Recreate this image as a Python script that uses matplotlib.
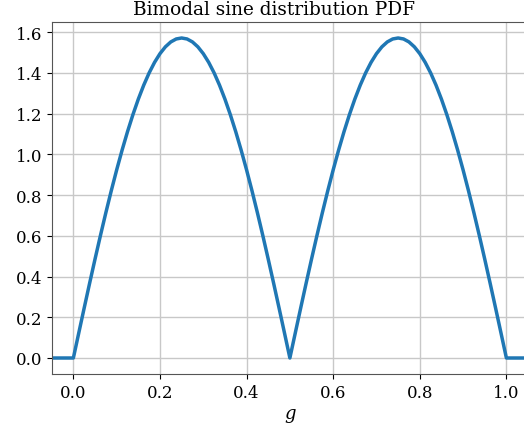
import numpy as np
import matplotlib.pyplot as plt

plt.rcParams['font.family'] = 'DejaVu Serif'
plt.rcParams['mathtext.fontset'] = 'dejavuserif'

# Плотность на отрезке [0, 1] с шагом 0.0125 и нули по краям
g = [-0.05] + [round(0.0125 * i, 4) for i in range(81)] + [1.05]
pdf = [0.0,
       0.0, 0.1232, 0.2457, 0.3667, 0.4854, 0.6011, 0.7131, 0.8208, 0.9233, 1.0202,
       1.1107, 1.1944, 1.2708, 1.3393, 1.3996, 1.4512, 1.4939, 1.5274, 1.5515, 1.5660,
       1.5708,
       1.5660, 1.5515, 1.5274, 1.4939, 1.4512, 1.3996, 1.3393, 1.2708, 1.1944, 1.1107,
       1.0202, 0.9233, 0.8208, 0.7131, 0.6011, 0.4854, 0.3667, 0.2457, 0.1232,
       0.0,
       0.1232, 0.2457, 0.3667, 0.4854, 0.6011, 0.7131, 0.8208, 0.9233, 1.0202,
       1.1107, 1.1944, 1.2708, 1.3393, 1.3996, 1.4512, 1.4939, 1.5274, 1.5515, 1.5660,
       1.5708,
       1.5660, 1.5515, 1.5274, 1.4939, 1.4512, 1.3996, 1.3393, 1.2708, 1.1944, 1.1107,
       1.0202, 0.9233, 0.8208, 0.7131, 0.6011, 0.4854, 0.3667, 0.2457, 0.1232,
       0.0,
       0.0]

fig = plt.figure(figsize=(5.24, 4.27), dpi=100)
ax = fig.add_axes([0.0987, 0.1218, 0.909, 0.8242])
ax.plot(g, pdf, color='#1f77b4', linewidth=2.5)
ax.set_xlim(-0.05, 1.05)
ax.set_ylim(-0.0785, 1.649)
ax.set_xticks(np.arange(0, 1.01, 0.2))
ax.set_yticks(np.arange(0, 1.61, 0.2))
ax.grid(True, color='#c8c8c8', linewidth=1)
ax.tick_params(labelsize=12)
for s in ax.spines.values():
    s.set_color('#555555')
ax.set_title('Bimodal sine distribution PDF', fontsize=13.3, x=0.466)
ax.set_xlabel('$g$', fontsize=13)
fig.savefig('out.png', dpi=100)
